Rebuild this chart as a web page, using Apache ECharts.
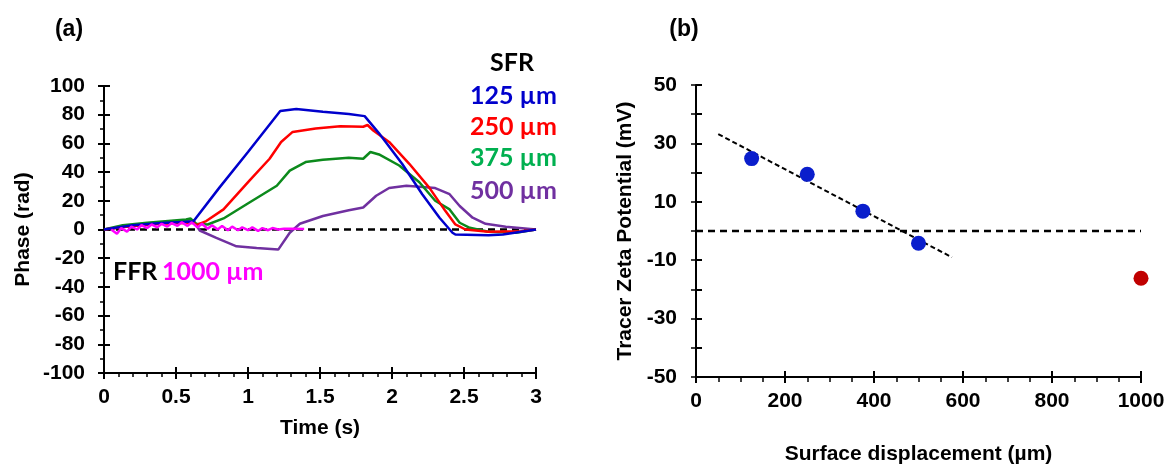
<!DOCTYPE html>
<html>
<head>
<meta charset="utf-8">
<script src="https://cdn.jsdelivr.net/npm/echarts@6/dist/echarts.min.js"></script>
<style>
html,body{margin:0;padding:0;background:#fff;}
#chart{width:1167px;height:466px;}
</style>
</head>
<body>
<div id="chart"></div>
<script>
// ---- Panel (a): phase vs time ----
var t125 = [0, 0.2, 0.4, 0.62, 0.8, 1.0, 1.224, 1.335, 1.52, 1.70, 1.81, 1.91, 2.07, 2.21, 2.33, 2.42, 2.44, 2.67, 2.77, 3.0];
var v125 = [0, 3, 4.5, 5.5, 29, 54, 82.6, 84, 82, 80.5, 79, 67, 45.8, 24.6, 8.2, -2.3, -3.5, -4, -3.5, 0];

var t250 = [0, 0.2, 0.4, 0.62, 0.64, 0.71, 0.83, 1.01, 1.15, 1.23, 1.31, 1.47, 1.64, 1.80, 1.83, 1.87, 1.98, 2.12, 2.26, 2.37, 2.44, 2.51, 2.67, 2.9, 3.0];
var v250 = [0, 2.5, 4, 4.7, 3, 5.9, 14, 34, 49.3, 61, 68, 70.4, 72, 71.6, 72.8, 69, 61, 45.8, 29, 13, 3.5, 0, -1.6, -1.2, 0];

var t375 = [0, 0.13, 0.3, 0.57, 0.6, 0.64, 0.72, 0.83, 1.01, 1.20, 1.29, 1.40, 1.52, 1.70, 1.80, 1.85, 1.91, 2.05, 2.19, 2.30, 2.40, 2.47, 2.54, 2.67, 2.86, 3.0];
var v375 = [0, 3, 4.7, 7, 7.7, 4, 3.5, 7.7, 18.8, 30.5, 41, 47, 48.6, 50, 49.3, 54, 52.3, 44.6, 32.9, 20, 14, 4.7, 1.2, -1.6, -2.3, 0];

var t500 = [0, 0.134, 0.37, 0.57, 0.62, 0.665, 0.78, 0.92, 1.06, 1.21, 1.29, 1.36, 1.52, 1.70, 1.80, 1.89, 1.98, 2.10, 2.19, 2.30, 2.40, 2.47, 2.56, 2.65, 2.79, 3.0];
var v500 = [0, 1.9, 4, 6.3, 6.3, -0.7, -5.9, -11.7, -12.9, -14, -2.3, 4, 9.4, 13.4, 15.3, 23.5, 28.9, 30.5, 29.8, 28.9, 24.6, 16.4, 8.2, 4, 1.9, 0];

var t1000 = [0.05, 0.09, 0.12, 0.16, 0.19, 0.23, 0.26, 0.30, 0.33, 0.37, 0.40, 0.44, 0.47, 0.51, 0.54, 0.58, 0.61, 0.65, 0.68, 0.72, 0.75, 0.79, 0.82, 0.86, 0.89, 0.93, 0.96, 1.00, 1.03, 1.07, 1.10, 1.14, 1.17, 1.21, 1.25, 1.30, 1.39];
var v1000 = [0, -3, 1, -1.5, 2, 0, 3, 1, 3.5, 1.5, 4, 2, 4.5, 2.5, 5, 2.5, 5, 1.5, 4, 0.5, 3, 0, 2.5, -0.5, 2, -0.5, 1.5, -0.5, 1.5, -1, 1, -0.5, 1, 0, 0.5, 0.5, 0.3];

var zeroLineA = [[0, 0], [3, 0]];

// ---- Panel (b): tracer zeta potential vs surface displacement ----
var sfrDisp = [125, 250, 375, 500];
var sfrZeta = [24.8, 19.4, 6.8, -4.2];
var ffrDisp = [1000];
var ffrZeta = [-16.2];
var fitX = [50, 575];
var fitY = [33.2, -9.0];
var zeroLineB = [[0, 0], [1000, 0]];
var yLabelsB = [-50, -30, -10, 10, 30, 50];

var legendLabels = ['125 µm', '250 µm', '375 µm', '500 µm'];
var legendColors = ['#0000CC', '#FF0000', '#00B050', '#7030A0'];

function zip(a, b) { return a.map(function (x, i) { return [x, b[i]]; }); }

var FONT = "'Liberation Sans', Arial, sans-serif";
var LEG = "Lato, 'Open Sans', sans-serif";

function plain(v) { return String(v); }

function mainAxis(o) {
  return Object.assign({
    axisLine: { show: true, onZero: false, lineStyle: { color: '#000', width: 2 } },
    axisTick: { show: true, inside: false, length: 6, lineStyle: { color: '#000', width: 2 } },
    splitLine: { show: false },
    nameTextStyle: { color: '#000', fontFamily: FONT, fontWeight: 'bold', fontSize: 21 },
    nameLocation: 'middle'
  }, o);
}
function overlayAxis(o) {
  return Object.assign({
    axisLine: { show: false, onZero: false },
    axisTick: { show: true, inside: true, length: 6, lineStyle: { color: '#000', width: 2 } },
    axisLabel: { show: false },
    splitLine: { show: false }
  }, o);
}
function lbl(margin, fmt) {
  return { color: '#000', fontFamily: FONT, fontWeight: 'bold', fontSize: 21, margin: margin, formatter: fmt || plain };
}

var lineStyleBase = function (c) { return { color: c, width: 2.5 }; };

var option = {
  backgroundColor: '#fff',
  animation: false,
  grid: [
    { left: 104, top: 86, width: 432, height: 287, outerBoundsMode: 'none', containLabel: false },
    { left: 696, top: 85, width: 445, height: 292, outerBoundsMode: 'none', containLabel: false }
  ],
  xAxis: [
    mainAxis({ gridIndex: 0, type: 'value', position: 'bottom', min: 0, max: 3, interval: 0.5, name: 'Time (s)', nameGap: 45,
      axisLabel: lbl(14),
      minorTick: { show: true, splitNumber: 5, length: 4, lineStyle: { color: '#000', width: 1.5 } } }),
    overlayAxis({ gridIndex: 0, type: 'value', position: 'bottom', min: 0, max: 3, interval: 0.5 }),
    mainAxis({ gridIndex: 1, type: 'value', position: 'bottom', min: 0, max: 1000, interval: 200, name: 'Surface displacement (µm)', nameGap: 67,
      axisLabel: lbl(14),
      minorTick: { show: true, splitNumber: 4, length: 5, lineStyle: { color: '#000', width: 1.5 } } }),
    overlayAxis({ gridIndex: 1, type: 'value', position: 'bottom', min: 0, max: 1000, interval: 200 })
  ],
  yAxis: [
    mainAxis({ gridIndex: 0, type: 'value', position: 'left', min: -100, max: 100, interval: 20, name: 'Phase (rad)', nameGap: 70,
      axisLabel: lbl(19),
      minorTick: { show: true, splitNumber: 2, length: 4, lineStyle: { color: '#000', width: 1.5 } } }),
    overlayAxis({ gridIndex: 0, type: 'value', position: 'left', min: -100, max: 100, interval: 20 }),
    mainAxis({ gridIndex: 1, type: 'value', position: 'left', min: -50, max: 50, interval: 10, name: 'Tracer Zeta Potential (mV)', nameGap: 60,
      axisTick: { show: true, inside: false, length: 5, lineStyle: { color: '#000', width: 1.5 } },
      axisLabel: lbl(19, function (v) { return yLabelsB.indexOf(v) >= 0 ? String(v) : ''; }) }),
    overlayAxis({ gridIndex: 1, type: 'value', position: 'left', min: -50, max: 50, interval: 10,
      axisTick: { show: true, inside: true, interval: 1, length: 6, lineStyle: { color: '#000', width: 2 } } })
  ],
  series: [
    { type: 'line', xAxisIndex: 0, yAxisIndex: 0, data: zeroLineA, symbol: 'none', z: 1,
      lineStyle: { color: '#000', width: 2.5, type: [7, 5] } },
    { type: 'line', xAxisIndex: 0, yAxisIndex: 0, data: zip(t500, v500), symbol: 'none', lineStyle: lineStyleBase('#7030A0') },
    { type: 'line', xAxisIndex: 0, yAxisIndex: 0, data: zip(t375, v375), symbol: 'none', lineStyle: lineStyleBase('#0C8A1C') },
    { type: 'line', xAxisIndex: 0, yAxisIndex: 0, data: zip(t250, v250), symbol: 'none', lineStyle: lineStyleBase('#FF0000') },
    { type: 'line', xAxisIndex: 0, yAxisIndex: 0, data: zip(t125, v125), symbol: 'none', lineStyle: lineStyleBase('#0000CC') },
    { type: 'line', xAxisIndex: 0, yAxisIndex: 0, data: zip(t1000, v1000), symbol: 'none', lineStyle: lineStyleBase('#FF00FF') },

    { type: 'line', xAxisIndex: 2, yAxisIndex: 2, data: zeroLineB, symbol: 'none',
      lineStyle: { color: '#000', width: 2.5, type: [7, 5] } },
    { type: 'line', xAxisIndex: 2, yAxisIndex: 2, data: zip(fitX, fitY), symbol: 'none',
      lineStyle: { color: '#000', width: 2, type: [5, 3] } },
    { type: 'scatter', xAxisIndex: 2, yAxisIndex: 2, data: zip(sfrDisp, sfrZeta), symbolSize: 15, z: 5,
      itemStyle: { color: '#0A1ECC', opacity: 1 } },
    { type: 'scatter', xAxisIndex: 2, yAxisIndex: 2, data: zip(ffrDisp, ffrZeta), symbolSize: 15, z: 5,
      itemStyle: { color: '#C00000', opacity: 1 } }
  ],
  graphic: [
    { type: 'text', x: 69, y: 30, style: { text: '(a)', fontFamily: FONT, fontWeight: 'bold', fontSize: 23, fill: '#000', align: 'center', verticalAlign: 'middle' } },
    { type: 'text', x: 684, y: 30, style: { text: '(b)', fontFamily: FONT, fontWeight: 'bold', fontSize: 23, fill: '#000', align: 'center', verticalAlign: 'middle' } },
    { type: 'text', x: 512, y: 63, style: { text: 'SFR', fontFamily: LEG, fontWeight: 'bold', fontSize: 25, fill: '#000', align: 'center', verticalAlign: 'middle' } },
    { type: 'text', x: 557, y: 96, style: { text: legendLabels[0], fontFamily: LEG, fontWeight: 'bold', fontSize: 25, fill: legendColors[0], align: 'right', verticalAlign: 'middle' } },
    { type: 'text', x: 557, y: 127, style: { text: legendLabels[1], fontFamily: LEG, fontWeight: 'bold', fontSize: 25, fill: legendColors[1], align: 'right', verticalAlign: 'middle' } },
    { type: 'text', x: 557, y: 158, style: { text: legendLabels[2], fontFamily: LEG, fontWeight: 'bold', fontSize: 25, fill: legendColors[2], align: 'right', verticalAlign: 'middle' } },
    { type: 'text', x: 557, y: 191, style: { text: legendLabels[3], fontFamily: LEG, fontWeight: 'bold', fontSize: 25, fill: legendColors[3], align: 'right', verticalAlign: 'middle' } },
    { type: 'text', x: 113, y: 272, style: { text: 'FFR', fontFamily: LEG, fontWeight: 'bold', fontSize: 25, fill: '#000', align: 'left', verticalAlign: 'middle' } },
    { type: 'text', x: 162, y: 272, style: { text: '1000 µm', fontFamily: LEG, fontWeight: 'bold', fontSize: 25, fill: '#FF00FF', align: 'left', verticalAlign: 'middle' } }
  ]
};

var chart = echarts.init(document.getElementById('chart'));
chart.setOption(option);
</script>
</body>
</html>
